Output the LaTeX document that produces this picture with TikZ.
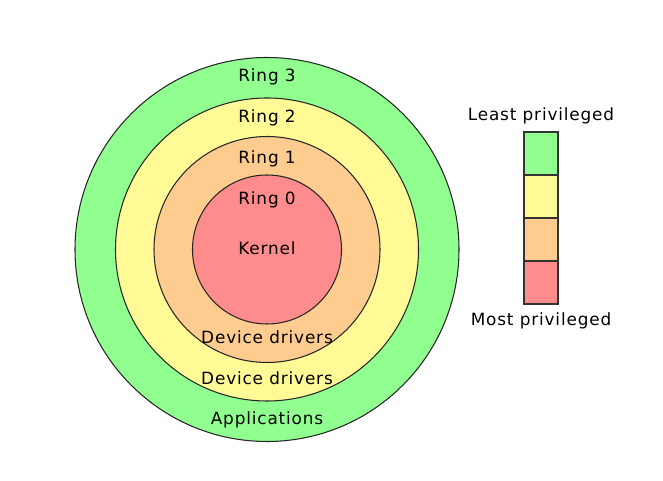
\documentclass[tikz,border=0pt]{standalone}
\usepackage{fontspec}
\setmainfont{DejaVu Sans}[LetterSpace=5]
\usetikzlibrary{positioning}
\definecolor{ringgreen}{HTML}{90FF90}
\definecolor{ringyellow}{HTML}{FFFA96}
\definecolor{ringorange}{HTML}{FFCC90}
\definecolor{ringred}{HTML}{FF8C8C}
\tikzset{
  ring/.style={circle, draw=black!85, line width=0.6pt, inner sep=0},
  lbl/.style={font=\fontsize{9.6}{11}\selectfont, inner sep=0},
  legbox/.style={draw=black!80, line width=0.6pt, minimum width=0.68cm, minimum height=0.86cm, inner sep=0, outer sep=0}
}
\begin{document}
\begin{tikzpicture}
  \useasboundingbox (0,0) rectangle (13.26,9.62);
  % rings, outermost first
  \node[ring, fill=ringgreen,  minimum size=7.68cm] (ring3) at (5.34,4.63) {};
  \node[ring, fill=ringyellow, minimum size=6.06cm] (ring2) at (ring3.center) {};
  \node[ring, fill=ringorange, minimum size=4.52cm] (ring1) at (ring3.center) {};
  \node[ring, fill=ringred,    minimum size=2.98cm] (ring0) at (ring3.center) {};
  % labels
  \node[lbl] (l3) at (5.34,8.08) {Ring 3};
  \node[lbl] (l2) at (5.34,7.26) {Ring 2};
  \node[lbl] (l1) at (5.34,6.44) {Ring 1};
  \node[lbl] (l0) at (5.34,5.62) {Ring 0};
  \node[lbl] (kern) at (5.34,4.66) {Kernel};
  \node[lbl] (dd1) at (5.34,2.88) {Device drivers};
  \node[lbl] (dd2) at (5.34,2.06) {Device drivers};
  \node[lbl] (apps) at (5.34,1.22) {Applications};
  % legend
  \node[legbox, fill=ringgreen] (lg3) at (10.82,6.55) {};
  \node[legbox, fill=ringyellow, below=0pt of lg3] (lg2) {};
  \node[legbox, fill=ringorange, below=0pt of lg2] (lg1) {};
  \node[legbox, fill=ringred,    below=0pt of lg1] (lg0) {};
  \node[lbl, above=0.16cm of lg3] (least) {Least privileged};
  \node[lbl, below=0.16cm of lg0] (most) {Most privileged};
\end{tikzpicture}
\end{document}
